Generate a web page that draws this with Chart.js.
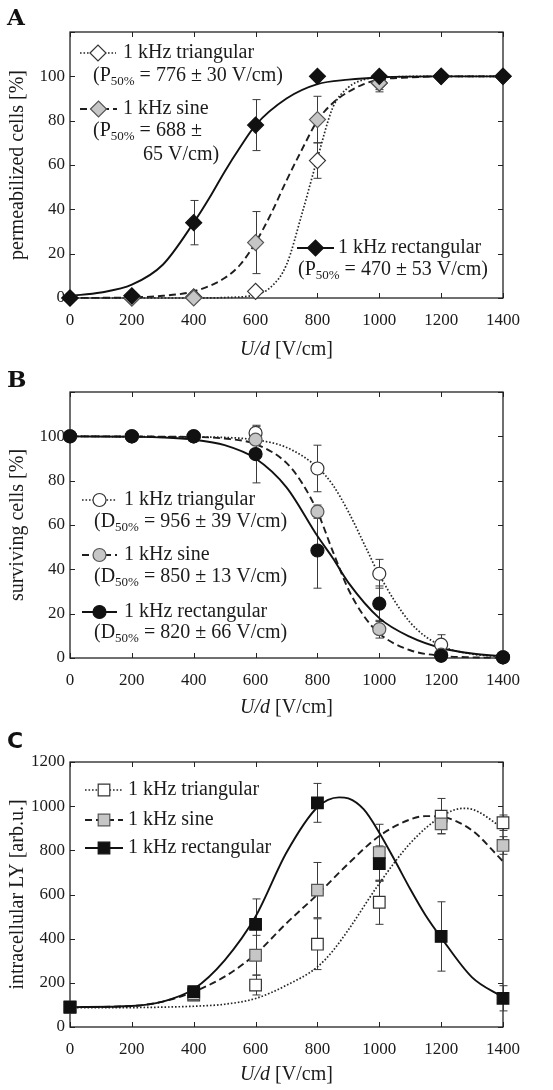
<!DOCTYPE html>
<html>
<head>
<meta charset="utf-8">
<script src="https://cdn.jsdelivr.net/npm/chart.js@4.4.1/dist/chart.umd.min.js"></script>
<style>
  html, body { margin: 0; padding: 0; background: #fff; }
  #wrap { position: relative; width: 553px; height: 1090px; }
  canvas { position: absolute; left: 0; }
</style>
</head>
<body>
<div id="wrap">
  <canvas id="chartA" width="553" height="360" style="top:0px"></canvas>
  <canvas id="chartB" width="553" height="370" style="top:360px"></canvas>
  <canvas id="chartC" width="553" height="360" style="top:730px"></canvas>
</div>
<script>
// ---- data ----

// A: permeabilized cells [%]
const fieldA = [0, 200, 400, 600, 800, 1000, 1200, 1400];
const permTri = [0, 0, 0.5, 3, 62, 97, 100, 100];
const permTriErr = [0, 0, 0, 0, 8, 3, 0, 0];
const permSine = [0, 0, 0, 25, 80.5, 97, 100, 100];
const permSineErr = [0, 0, 0, 14, 10.5, 4, 0, 0];
const permRect = [0, 1, 34, 78, 100, 100, 100, 100];
const permRectErr = [0, 0, 10, 11.5, 0, 0, 0, 0];

// fitted curves of A (read at sample voltages)
const permTriFitX = [0, 400, 500, 600, 650, 700, 750, 800, 850, 900, 950, 1000, 1200, 1400];
const permTriFitY = [0, 0, 0.2, 1.5, 5, 15, 38, 63, 86, 95, 98.5, 99.5, 100, 100];
const permSineFitX = [0, 200, 300, 400, 500, 550, 600, 650, 700, 750, 800, 850, 900, 950, 1000, 1100, 1200, 1400];
const permSineFitY = [0, 0.3, 1, 3, 9, 15, 25, 38, 53, 67, 80, 88, 93, 96.5, 98.5, 99.5, 100, 100];
const permRectFitX = [0, 100, 200, 300, 400, 450, 500, 550, 600, 700, 800, 900, 1000, 1200, 1400];
const permRectFitY = [1, 2.5, 6, 15, 34, 45, 57, 68, 78, 90, 96.5, 98.5, 99.5, 100, 100];

// B: surviving cells [%]
const fieldB = [0, 200, 400, 600, 800, 1000, 1200, 1400];
const survTri = [100, 100, 100, 101.5, 85.5, 38, 6, 0.3];
const survTriErr = [0, 0, 0, 3, 10.5, 6.5, 4.5, 0];
const survSine = [100, 100, 100, 98.5, 66, 13, 1.5, 0.3];
const survSineErr = [0, 0, 0, 2, 3, 4, 1, 0];
const survRect = [100, 100, 100, 92, 48.5, 24.5, 1, 0.3];
const survRectErr = [0, 0, 0, 13, 17, 8, 0.5, 0];

const survTriFitX = [0, 400, 500, 600, 700, 800, 850, 900, 956, 1000, 1100, 1200, 1300, 1400];
const survTriFitY = [100, 99.7, 99.5, 98.4, 95, 86, 78, 66, 50, 37.5, 16, 5.5, 1.8, 0.6];
const survSineFitX = [0, 400, 500, 600, 700, 750, 800, 850, 900, 950, 1000, 1100, 1200, 1300, 1400];
const survSineFitY = [100, 99.7, 99, 96.5, 88, 79, 66, 48, 31, 19, 11, 3.5, 1, 0.3, 0.1];
const survRectFitX = [0, 200, 300, 400, 500, 600, 700, 800, 850, 900, 1000, 1100, 1200, 1300, 1400];
const survRectFitY = [100, 99.8, 99.5, 98.5, 96, 90, 77, 55, 45, 34, 18, 9.5, 4.5, 2, 0.8];

// C: intracellular LY [arb.u.]
const fieldC = [0, 400, 600, 800, 1000, 1200, 1400];
const lyTri = [90, 145, 190, 375, 565, 955, 925];
const lyTriErr = [0, 25, 45, 115, 100, 80, 35];
const lySine = [90, 150, 325, 620, 790, 920, 822];
const lySineErr = [0, 20, 90, 125, 128, 45, 40];
const lyRect = [90, 160, 465, 1015, 740, 410, 130];
const lyRectErr = [0, 20, 115, 88, 80, 157, 57];

const lyTriFitX = [0, 200, 300, 400, 500, 600, 700, 800, 850, 900, 1000, 1100, 1200, 1270, 1300, 1400];
const lyTriFitY = [88, 88, 90, 94, 103, 129, 189, 272, 345, 440, 650, 832, 953, 990, 986, 900];
const lySineFitX = [0, 200, 300, 400, 500, 600, 700, 800, 900, 1000, 1100, 1150, 1200, 1300, 1400];
const lySineFitY = [90, 95, 115, 160, 228, 330, 470, 600, 740, 865, 940, 955, 952, 890, 750];
const lyRectFitX = [0, 200, 300, 400, 500, 600, 700, 800, 870, 900, 950, 1000, 1050, 1100, 1150, 1200, 1300, 1400];
const lyRectFitY = [90, 95, 115, 172, 302, 500, 790, 995, 1040, 1035, 985, 880, 755, 625, 505, 405, 225, 135];

// ---- styling ----
const SERIF = '"Liberation Serif", "Times New Roman", serif';
const INK = '#1b1b1b';

const looks = {
  tri:  { bg: '#ffffff', border: '#333333', line: '#262626', width: 1.7, dash: [1.6, 1.9] },
  sine: { bg: '#c6c6c6', border: '#555555', line: '#1e1e1e', width: 1.9, dash: [7, 4] },
  rect: { bg: '#111111', border: '#111111', line: '#111111', width: 1.9, dash: [] }
};

function pairs(xs, ys) {
  return xs.map((x, i) => ({ x: x, y: ys[i] }));
}

function drawMarker(ctx, shape, x, y, r, s) {
  ctx.save();
  ctx.setLineDash([]);
  ctx.fillStyle = s.bg;
  ctx.strokeStyle = s.border;
  ctx.lineWidth = 1.2;
  ctx.beginPath();
  if (shape === 'rectRot') {
    ctx.moveTo(x - r, y);
    ctx.lineTo(x, y - r);
    ctx.lineTo(x + r, y);
    ctx.lineTo(x, y + r);
    ctx.closePath();
  } else if (shape === 'rect') {
    const h = r * Math.SQRT1_2;
    ctx.rect(x - h, y - h, 2 * h, 2 * h);
  } else {
    ctx.arc(x, y, r, 0, Math.PI * 2);
  }
  ctx.fill();
  ctx.stroke();
  ctx.restore();
}

function segFont(kind) {
  if (kind === 's') return '13px ' + SERIF;
  if (kind === 'i') return 'italic 20px ' + SERIF;
  return '20px ' + SERIF;
}

// text with subscript / italic pieces
function drawRich(ctx, segs, x, y, centered) {
  ctx.save();
  ctx.fillStyle = INK;
  ctx.textBaseline = 'middle';
  ctx.textAlign = 'left';
  let w = 0;
  segs.forEach(s => { ctx.font = segFont(s[1]); w += ctx.measureText(s[0]).width; });
  let cx = centered ? x - w / 2 : x;
  segs.forEach(s => {
    ctx.font = segFont(s[1]);
    ctx.fillText(s[0], cx, s[1] === 's' ? y + 6 : y);
    cx += ctx.measureText(s[0]).width;
  });
  ctx.restore();
}

function decorPlugin(p) {
  return {
    id: 'decor',
    beforeDatasetsDraw(chart) {
      const { ctx, chartArea: a, scales: { x, y } } = chart;
      ctx.save();
      ctx.strokeStyle = '#222';
      ctx.lineWidth = 1.3;
      ctx.strokeRect(a.left, a.top, a.right - a.left, a.bottom - a.top);

      // inward tick marks on all four sides
      ctx.lineWidth = 1;
      ctx.beginPath();
      x.ticks.forEach(t => {
        const px = Math.round(x.getPixelForValue(t.value)) + 0.5;
        ctx.moveTo(px, a.bottom); ctx.lineTo(px, a.bottom - 5);
        ctx.moveTo(px, a.top); ctx.lineTo(px, a.top + 5);
      });
      y.ticks.forEach(t => {
        const py = Math.round(y.getPixelForValue(t.value)) + 0.5;
        ctx.moveTo(a.left, py); ctx.lineTo(a.left + 5, py);
        ctx.moveTo(a.right, py); ctx.lineTo(a.right - 5, py);
      });
      ctx.stroke();

      // error bars
      ctx.strokeStyle = '#3a3a3a';
      ctx.lineWidth = 1;
      ctx.beginPath();
      p.errors.forEach(e => {
        e.vals.forEach((v, i) => {
          if (!e.err[i]) return;
          const px = Math.round(x.getPixelForValue(p.xs[i])) + 0.5;
          const top = y.getPixelForValue(v + e.err[i]);
          const bot = y.getPixelForValue(v - e.err[i]);
          ctx.moveTo(px, top); ctx.lineTo(px, bot);
          ctx.moveTo(px - 4, top); ctx.lineTo(px + 4, top);
          ctx.moveTo(px - 4, bot); ctx.lineTo(px + 4, bot);
        });
      });
      ctx.stroke();
      ctx.restore();
    },
    afterDraw(chart) {
      const { ctx, chartArea: a } = chart;
      ctx.save();
      // panel letter
      ctx.fillStyle = '#111';
      ctx.font = p.letterFont;
      ctx.textBaseline = 'alphabetic';
      ctx.fillText(p.letter, 7, p.letterY);

      // x axis title
      drawRich(ctx, [['U/d', 'i'], [' [V/cm]', 'n']], (a.left + a.right) / 2, a.bottom + p.xTitleGap, true);

      // legend entries
      p.legend.forEach(item => {
        const s = looks[item.key];
        ctx.save();
        ctx.strokeStyle = s.line;
        ctx.lineWidth = s.width;
        ctx.setLineDash(s.dash);
        ctx.beginPath();
        ctx.moveTo(item.x0, item.y);
        ctx.lineTo(item.x1, item.y);
        ctx.stroke();
        ctx.restore();
        drawMarker(ctx, p.shape, (item.x0 + item.x1) / 2, item.y, p.radius, s);
        drawRich(ctx, [[item.label, 'n']], item.tx, item.y, false);
        item.extra.forEach(l => drawRich(ctx, l.segs, l.x, l.y, false));
      });
      ctx.restore();
    }
  };
}

function buildPanel(canvasId, p) {
  const canvas = document.getElementById(canvasId);
  const datasets = [];
  const keys = ['rect', 'sine', 'tri'];
  keys.forEach((k, i) => {
    const s = looks[k];
    datasets.push({
      data: pairs(p.xs, p.points[k]),
      showLine: false,
      pointStyle: p.shape,
      pointRadius: p.radius,
      pointBackgroundColor: s.bg,
      pointBorderColor: s.border,
      pointBorderWidth: 1.2,
      order: i,
      clip: false
    });
  });
  keys.forEach((k, i) => {
    const s = looks[k];
    datasets.push({
      data: pairs(p.fits[k][0], p.fits[k][1]),
      borderColor: s.line,
      borderWidth: s.width,
      borderDash: s.dash,
      pointRadius: 0,
      cubicInterpolationMode: 'monotone',
      fill: false,
      order: 3 + i,
      clip: false
    });
  });

  new Chart(canvas, {
    type: 'line',
    data: { datasets: datasets },
    options: {
      responsive: false,
      animation: false,
      events: [],
      layout: { padding: { left: 0, right: 50, top: 32, bottom: 0 } },
      plugins: { legend: { display: false }, tooltip: { enabled: false } },
      scales: {
        x: {
          type: 'linear',
          min: 0,
          max: 1400,
          grid: { display: false, drawTicks: false },
          border: { display: false },
          ticks: {
            stepSize: 200,
            padding: 12,
            color: INK,
            font: { family: SERIF, size: 17 },
            maxRotation: 0,
            callback: v => String(v)
          },
          afterFit: scale => { scale.height = canvas.height - p.bottom; }
        },
        y: {
          min: 0,
          max: p.yMax,
          grid: { display: false, drawTicks: false },
          border: { display: false },
          ticks: {
            stepSize: p.yStep,
            padding: 5,
            color: INK,
            font: { family: SERIF, size: 17 },
            callback: v => (v <= p.yLabelMax ? String(v) : '')
          },
          title: {
            display: true,
            text: p.yTitle,
            color: INK,
            font: { family: SERIF, size: 20 },
            padding: { top: 6, bottom: 0 }
          },
          afterFit: scale => { scale.width = 70; }
        }
      }
    },
    plugins: [decorPlugin(p)]
  });
}

buildPanel('chartA', {
  letter: 'A', letterFont: 'bold 23px "DejaVu Serif", serif', letterY: 25,
  xs: fieldA, shape: 'rectRot', radius: 8, bottom: 298, xTitleGap: 52,
  yMax: 120, yStep: 20, yLabelMax: 100, yTitle: 'permeabilized cells [%]',
  points: { tri: permTri, sine: permSine, rect: permRect },
  fits: { tri: [permTriFitX, permTriFitY], sine: [permSineFitX, permSineFitY], rect: [permRectFitX, permRectFitY] },
  errors: [
    { vals: permTri, err: permTriErr },
    { vals: permSine, err: permSineErr },
    { vals: permRect, err: permRectErr }
  ],
  legend: [
    { key: 'tri', x0: 80, x1: 116, y: 53, tx: 123, label: '1 kHz triangular',
      extra: [{ x: 93, y: 76, segs: [['(P', 'n'], ['50%', 's'], [' = 776 ± 30 V/cm)', 'n']] }] },
    { key: 'sine', x0: 80, x1: 117, y: 109, tx: 123, label: '1 kHz sine',
      extra: [{ x: 93, y: 131, segs: [['(P', 'n'], ['50%', 's'], [' = 688 ±', 'n']] },
              { x: 143, y: 155, segs: [['65 V/cm)', 'n']] }] },
    { key: 'rect', x0: 297, x1: 334, y: 248, tx: 338, label: '1 kHz rectangular',
      extra: [{ x: 298, y: 270, segs: [['(P', 'n'], ['50%', 's'], [' = 470 ± 53 V/cm)', 'n']] }] }
  ]
});

buildPanel('chartB', {
  letter: 'B', letterFont: 'bold 23px "DejaVu Serif", serif', letterY: 27,
  xs: fieldB, shape: 'circle', radius: 6.5, bottom: 298, xTitleGap: 50,
  yMax: 120, yStep: 20, yLabelMax: 100, yTitle: 'surviving cells [%]',
  points: { tri: survTri, sine: survSine, rect: survRect },
  fits: { tri: [survTriFitX, survTriFitY], sine: [survSineFitX, survSineFitY], rect: [survRectFitX, survRectFitY] },
  errors: [
    { vals: survTri, err: survTriErr },
    { vals: survSine, err: survSineErr },
    { vals: survRect, err: survRectErr }
  ],
  legend: [
    { key: 'tri', x0: 82, x1: 117, y: 140, tx: 124, label: '1 kHz triangular',
      extra: [{ x: 94, y: 162, segs: [['(D', 'n'], ['50%', 's'], [' = 956 ± 39 V/cm)', 'n']] }] },
    { key: 'sine', x0: 82, x1: 117, y: 195, tx: 124, label: '1 kHz sine',
      extra: [{ x: 94, y: 217, segs: [['(D', 'n'], ['50%', 's'], [' = 850 ± 13 V/cm)', 'n']] }] },
    { key: 'rect', x0: 82, x1: 117, y: 252, tx: 124, label: '1 kHz rectangular',
      extra: [{ x: 94, y: 273, segs: [['(D', 'n'], ['50%', 's'], [' = 820 ± 66 V/cm)', 'n']] }] }
  ]
});

buildPanel('chartC', {
  letter: 'C', letterFont: 'bold 22px "DejaVu Sans", sans-serif', letterY: 18,
  xs: fieldC, shape: 'rect', radius: 8.2, bottom: 297, xTitleGap: 48,
  yMax: 1200, yStep: 200, yLabelMax: 1200, yTitle: 'intracellular LY [arb.u.]',
  points: { tri: lyTri, sine: lySine, rect: lyRect },
  fits: { tri: [lyTriFitX, lyTriFitY], sine: [lySineFitX, lySineFitY], rect: [lyRectFitX, lyRectFitY] },
  errors: [
    { vals: lyTri, err: lyTriErr },
    { vals: lySine, err: lySineErr },
    { vals: lyRect, err: lyRectErr }
  ],
  legend: [
    { key: 'tri', x0: 85, x1: 123, y: 60, tx: 128, label: '1 kHz triangular', extra: [] },
    { key: 'sine', x0: 85, x1: 123, y: 90, tx: 128, label: '1 kHz sine', extra: [] },
    { key: 'rect', x0: 85, x1: 123, y: 118, tx: 128, label: '1 kHz rectangular', extra: [] }
  ]
});
</script>
</body>
</html>
